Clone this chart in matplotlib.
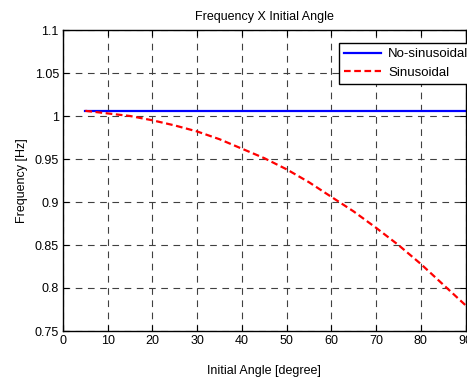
import matplotlib.pyplot as plt

# Plot defaults:
plt.rcParams['font.family'] = ['Liberation Sans', 'DejaVu Sans']
plt.rcParams['font.size'] = 9

# Data:
angles = [5, 10, 15, 20, 25, 30, 35, 40, 45, 50, 55, 60, 65, 70, 75, 80, 85, 90]
freqNoSin = [1.006] * len(angles)
freqSin = [1.006, 1.003, 1.0, 0.995, 0.989, 0.982, 0.973, 0.962, 0.951, 0.938,
           0.923, 0.906, 0.889, 0.870, 0.850, 0.828, 0.804, 0.780]
xTicks = [0, 10, 20, 30, 40, 50, 60, 70, 80, 90]
yTicks = [0.75, 0.8, 0.85, 0.9, 0.95, 1.0, 1.05, 1.1]
yTickLabels = ['0.75', '0.8', '0.85', '0.9', '0.95', '1', '1.05', '1.1']

fig = plt.figure(figsize=(4.67, 3.78), dpi=100)
ax = fig.add_axes([63 / 467, 1 - 331 / 378, (465.5 - 63) / 467, (331 - 30) / 378])

ax.plot(angles, freqNoSin, color='#0000ff', linewidth=1.6, label='No-sinusoidal')
ax.plot(angles, freqSin, color='#ff0000', linewidth=1.6, linestyle=(0, (3, 1.6)),
        label='Sinusoidal')

ax.set_xlim(0, 90)
ax.set_ylim(0.75, 1.1)
ax.set_xticks(xTicks)
ax.set_yticks(yTicks)
ax.set_yticklabels(yTickLabels)
ax.tick_params(direction='in', top=True, right=True, length=4, width=0.8,
               labelsize=9, colors='black', pad=3)
ax.grid(True, color='#404040', linestyle=(0, (6, 5)), linewidth=0.8)
for spine in ax.spines.values():
    spine.set_linewidth(1.0)

ax.set_title('Frequency X Initial Angle', fontsize=9, pad=7.5)
ax.set_xlabel('Initial Angle [degree]', fontsize=9, labelpad=13)
ax.set_ylabel('Frequency [Hz]', fontsize=9, labelpad=4.5)

leg = ax.legend(loc='upper left', bbox_to_anchor=(0.685, 0.957), fontsize=9.5,
                fancybox=False, framealpha=1, edgecolor='black',
                handlelength=2.8, handletextpad=0.55, borderpad=0.4,
                labelspacing=0.45, borderaxespad=0)
leg.get_frame().set_linewidth(1.0)

plt.savefig('out.png', dpi=100)
